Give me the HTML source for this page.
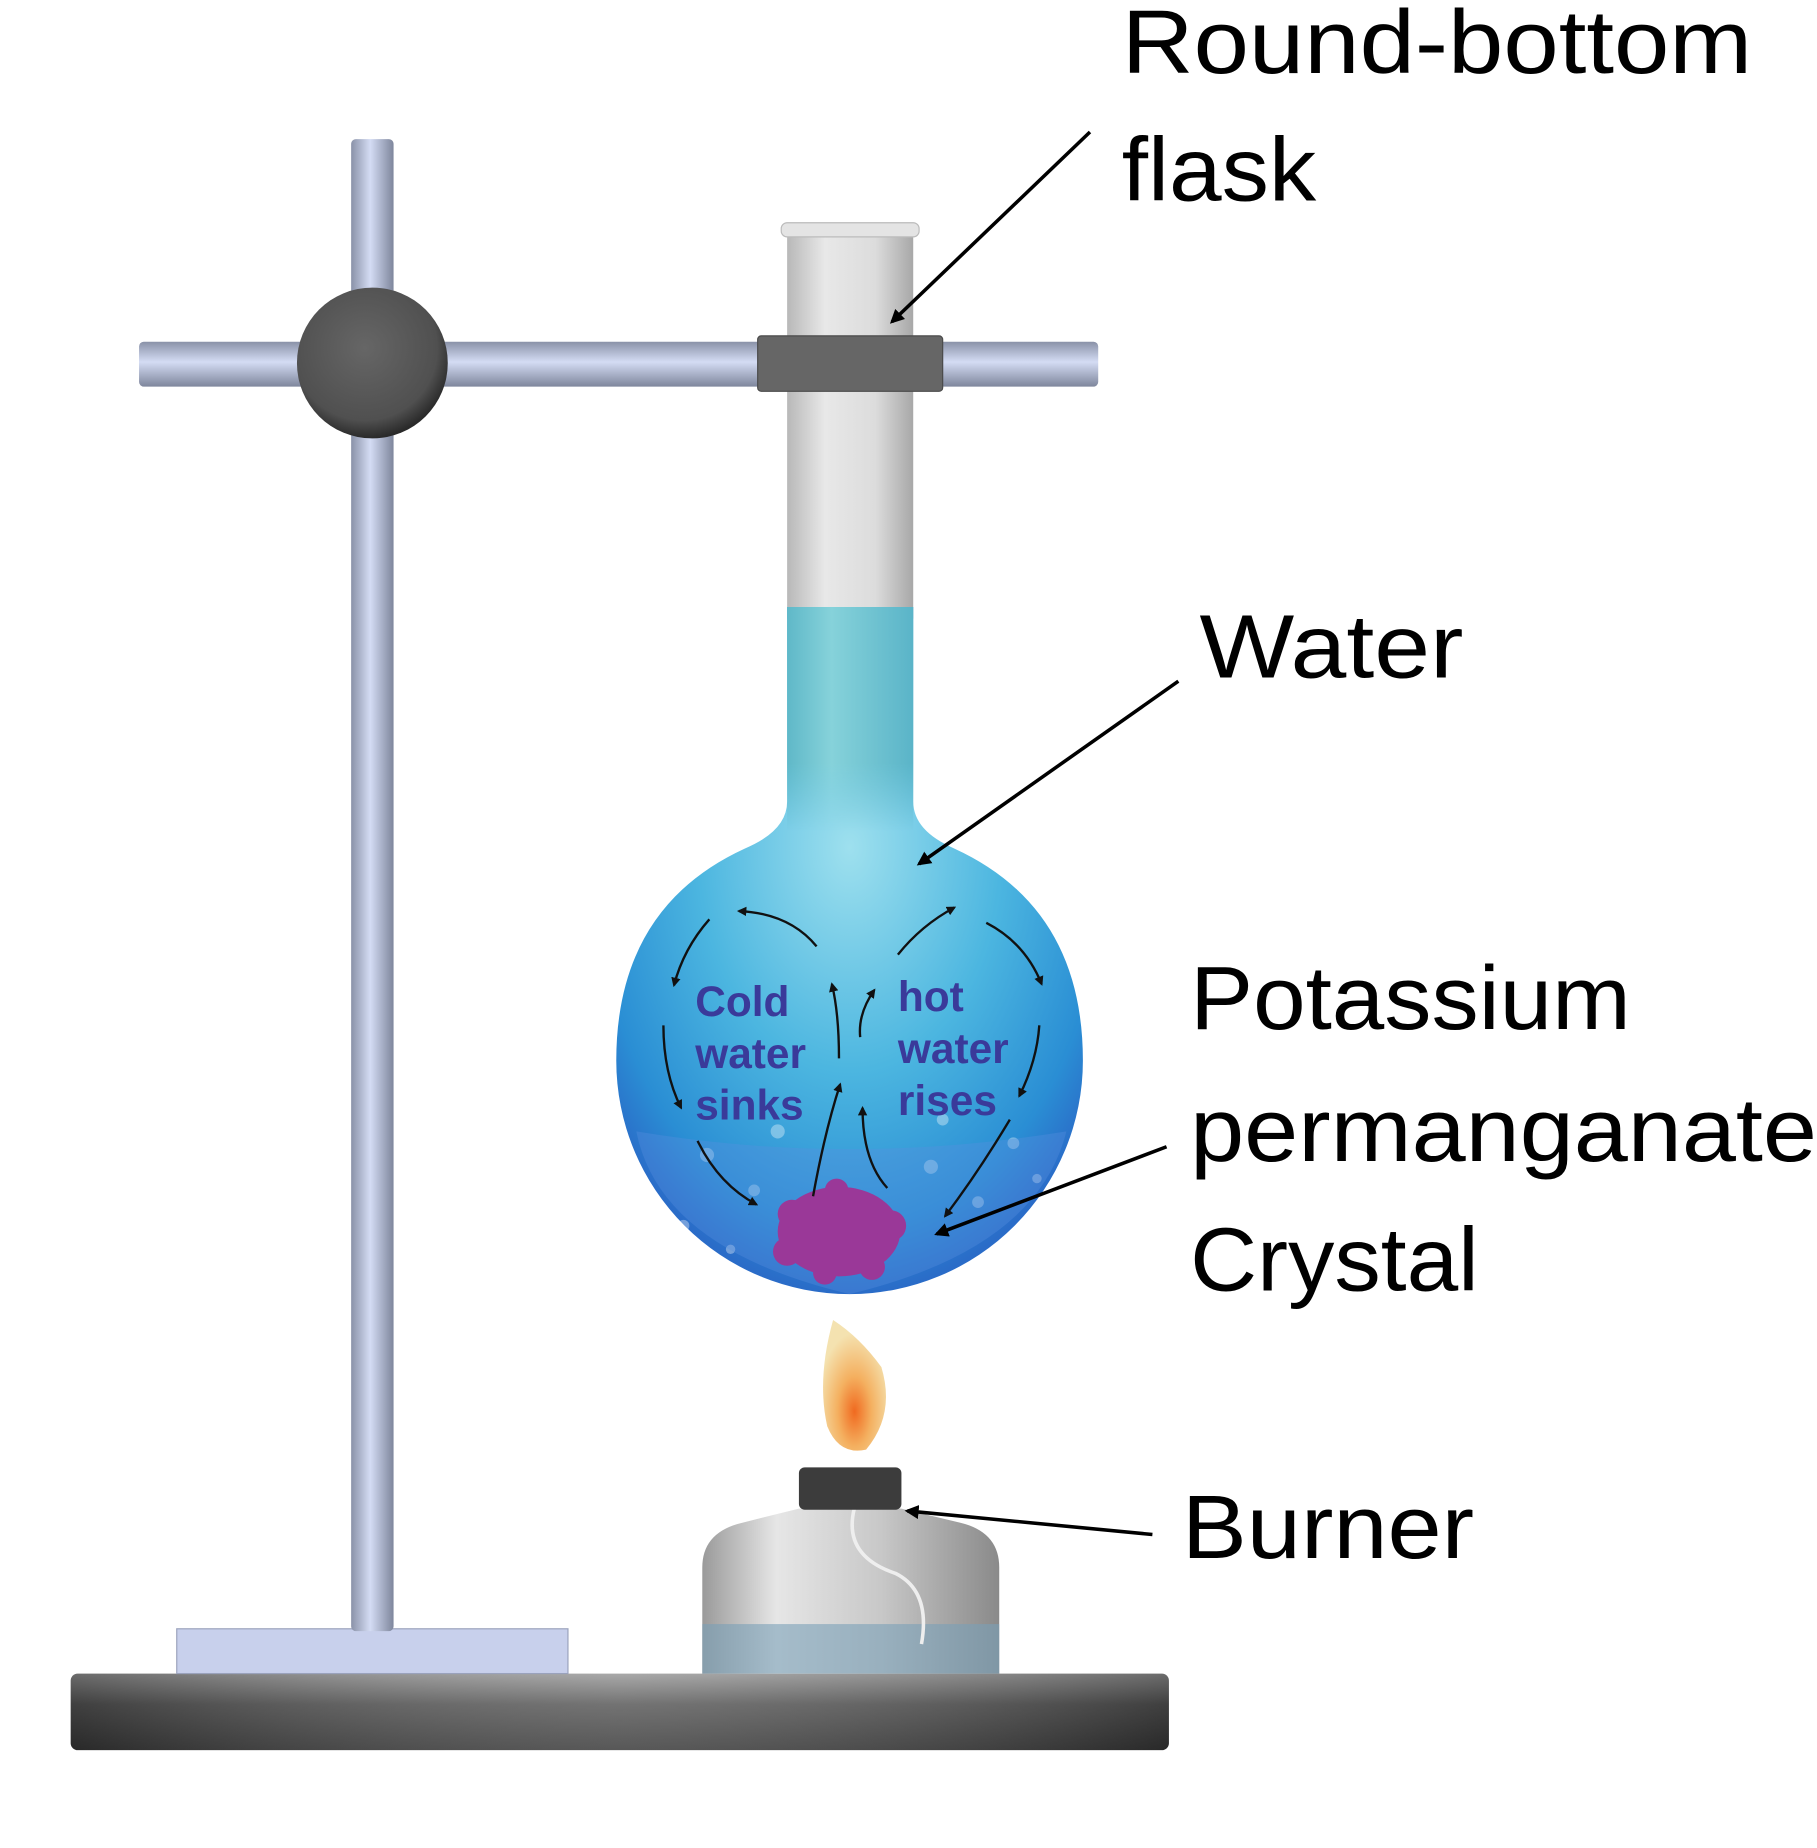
<!DOCTYPE html>
<html><head><meta charset="utf-8"><style>html,body{margin:0;padding:0;background:#fff}svg{display:block}</style></head><body>
<svg width="1817" height="1848" viewBox="0 0 1542 1568" preserveAspectRatio="none" xmlns="http://www.w3.org/2000/svg">
<defs>
<linearGradient id="rodV" x1="0" x2="1" y1="0" y2="0"><stop offset="0" stop-color="#8a92a8"/><stop offset=".45" stop-color="#d4dcf4"/><stop offset="1" stop-color="#7e869c"/></linearGradient>
<linearGradient id="rodH" x1="0" x2="0" y1="0" y2="1"><stop offset="0" stop-color="#8a92a8"/><stop offset=".45" stop-color="#d4dcf4"/><stop offset="1" stop-color="#7e869c"/></linearGradient>
<linearGradient id="base" x1="0" x2="0" y1="0" y2="1"><stop offset="0" stop-color="#9a9a9a"/><stop offset=".4" stop-color="#5a5a5a"/><stop offset="1" stop-color="#3a3a3a"/></linearGradient>
<linearGradient id="baseH" x1="0" x2="1"><stop offset="0" stop-color="#000" stop-opacity=".3"/><stop offset=".5" stop-color="#fff" stop-opacity=".15"/><stop offset="1" stop-color="#000" stop-opacity=".3"/></linearGradient>
<linearGradient id="neck" x1="0" x2="1"><stop offset="0" stop-color="#b8b8b8"/><stop offset=".3" stop-color="#e8e8e8"/><stop offset=".7" stop-color="#dcdcdc"/><stop offset="1" stop-color="#a8a8a8"/></linearGradient>
<linearGradient id="neckW" x1="0" x2="1"><stop offset="0" stop-color="#5fb8c8"/><stop offset=".35" stop-color="#86d2da"/><stop offset="1" stop-color="#5ab4c8"/></linearGradient>
<linearGradient id="fade" x1="0" x2="0" y1="0" y2="1"><stop offset="0" stop-color="#fff" stop-opacity="1"/><stop offset=".7" stop-color="#fff" stop-opacity="1"/><stop offset="1" stop-color="#fff" stop-opacity="0"/></linearGradient>
<mask id="nm"><rect x="660" y="515" width="130" height="190" fill="url(#fade)"/></mask>
<radialGradient id="bulb" cx=".5" cy=".35" r=".65"><stop offset="0" stop-color="#9ee0ee"/><stop offset=".5" stop-color="#4cb6e0"/><stop offset=".85" stop-color="#2a8ed4"/><stop offset="1" stop-color="#2a6cc8"/></radialGradient>
<linearGradient id="burner" x1="0" x2="1"><stop offset="0" stop-color="#9a9a9a"/><stop offset=".25" stop-color="#e6e6e6"/><stop offset=".6" stop-color="#c8c8c8"/><stop offset="1" stop-color="#8a8a8a"/></linearGradient>
<radialGradient id="flame" cx=".5" cy=".7" r=".6"><stop offset="0" stop-color="#f06a20"/><stop offset=".45" stop-color="#f4b060"/><stop offset="1" stop-color="#f4e2b0"/></radialGradient>
<radialGradient id="knob" cx=".45" cy=".4" r=".6"><stop offset="0" stop-color="#666"/><stop offset=".8" stop-color="#505050"/><stop offset="1" stop-color="#2a2a2a"/></radialGradient>
<marker id="ah" viewBox="0 0 10 10" refX="8" refY="5" markerWidth="4" markerHeight="4" orient="auto"><path d="M0,0L10,5L0,10z" fill="#000"/></marker>
<marker id="as" viewBox="0 0 10 10" refX="8" refY="5" markerWidth="4" markerHeight="4" orient="auto"><path d="M0,0L10,5L0,10z" fill="#111"/></marker>
</defs>
<rect width="1542" height="1568" fill="#fff"/>
<rect x="60" y="1420" width="932" height="65" rx="6" fill="url(#base)"/>
<rect x="60" y="1420" width="932" height="65" rx="6" fill="url(#baseH)"/>
<rect x="150" y="1382" width="332" height="38" fill="#c8d0ec" stroke="#9aa2bc"/>
<rect x="298" y="118" width="36" height="1266" rx="4" fill="url(#rodV)"/>
<rect x="118" y="290" width="814" height="38" rx="4" fill="url(#rodH)"/>
<circle cx="316" cy="308" r="64" fill="url(#knob)"/>
<rect x="668" y="195" width="107" height="330" fill="url(#neck)"/>
<rect x="663" y="189" width="117" height="12" rx="5" fill="#e4e4e4" stroke="#bbb"/>
<path d="M668,515 L775,515 L775,680 Q775,705 810,720 Q919,770 919,900 A198,198 0 0 1 523,900 Q523,770 632,720 Q668,705 668,680 Z" fill="url(#bulb)"/>
<rect x="668" y="515" width="107" height="190" fill="url(#neckW)" mask="url(#nm)"/>
<g fill="#fff" opacity=".35">
<circle cx="600" cy="980" r="6"/><circle cx="640" cy="1010" r="5"/><circle cx="790" cy="990" r="6"/><circle cx="830" cy="1020" r="5"/><circle cx="860" cy="970" r="5"/><circle cx="580" cy="1040" r="5"/><circle cx="660" cy="960" r="6"/><circle cx="800" cy="950" r="5"/><circle cx="880" cy="1000" r="4"/><circle cx="620" cy="1060" r="4"/>
</g>
<path d="M540,960 Q720,990 905,960 Q880,1060 721,1098 Q560,1060 540,960Z" fill="#5a90e0" opacity=".35"/>
<rect x="643" y="285" width="157" height="47" rx="3" fill="#666" stroke="#4a4a4a"/>
<g fill="#9a3898">
<ellipse cx="712" cy="1045" rx="52" ry="38"/><circle cx="672" cy="1030" r="12"/><circle cx="756" cy="1040" r="13"/><circle cx="668" cy="1062" r="12"/><circle cx="740" cy="1075" r="11"/><circle cx="710" cy="1010" r="10"/><circle cx="700" cy="1080" r="10"/>
</g>
<g fill="none" stroke="#111" stroke-width="2" marker-end="url(#as)">
<path d="M693,803 Q670,775 627,773"/>
<path d="M602,780 Q580,805 572,836"/>
<path d="M563,870 Q563,910 578,940"/>
<path d="M592,968 Q610,1005 642,1022"/>
<path d="M690,1015 Q700,960 713,920"/>
<path d="M712,898 Q712,860 706,835"/>
<path d="M753,1008 Q732,985 732,940"/>
<path d="M730,880 Q728,860 742,840"/>
<path d="M762,810 Q782,785 810,770"/>
<path d="M837,783 Q870,800 884,835"/>
<path d="M882,870 Q880,900 865,930"/>
<path d="M857,950 Q830,995 802,1032"/>
</g>
<g font-family="Liberation Sans, sans-serif" font-weight="bold" font-size="36" fill="#3a3a9a">
<text x="590" y="862">Cold</text><text x="590" y="906">water</text><text x="590" y="950">sinks</text>
<text x="762" y="858">hot</text><text x="762" y="902">water</text><text x="762" y="946">rises</text>
</g>
<path d="M707,1120 Q730,1135 748,1160 Q760,1200 735,1230 Q712,1235 702,1210 Q693,1170 707,1120Z" fill="url(#flame)"/>
<path d="M596,1420 L596,1330 Q596,1300 630,1292 L678,1280 L765,1280 L815,1292 Q848,1300 848,1330 L848,1420Z" fill="url(#burner)"/>
<rect x="596" y="1378" width="252" height="42" fill="#7aa0b8" opacity=".6"/>
<path d="M725,1280 Q715,1320 760,1335 Q790,1350 782,1395" fill="none" stroke="#eee" stroke-width="3"/>
<rect x="678" y="1245" width="87" height="36" rx="5" fill="#3c3c3c"/>
<g stroke="#000" stroke-width="3" marker-end="url(#ah)">
<line x1="925" y1="112" x2="757" y2="273"/>
<line x1="1000" y1="578" x2="780" y2="733"/>
<line x1="990" y1="973" x2="795" y2="1047"/>
<line x1="978" y1="1302" x2="770" y2="1282"/>
</g>
<g font-family="Liberation Sans, sans-serif" font-size="76" fill="#000">
<text x="952" y="62" textLength="535" lengthAdjust="spacingAndGlyphs">Round-bottom</text>
<text x="952" y="170" textLength="165" lengthAdjust="spacingAndGlyphs">flask</text>
<text x="1018" y="575" textLength="224" lengthAdjust="spacingAndGlyphs">Water</text>
<text x="1010" y="873" textLength="374" lengthAdjust="spacingAndGlyphs">Potassium</text>
<text x="1010" y="985" textLength="532" lengthAdjust="spacingAndGlyphs">permanganate</text>
<text x="1010" y="1095" textLength="245" lengthAdjust="spacingAndGlyphs">Crystal</text>
<text x="1003" y="1322" textLength="248" lengthAdjust="spacingAndGlyphs">Burner</text>
</g>
</svg>
</body></html>
